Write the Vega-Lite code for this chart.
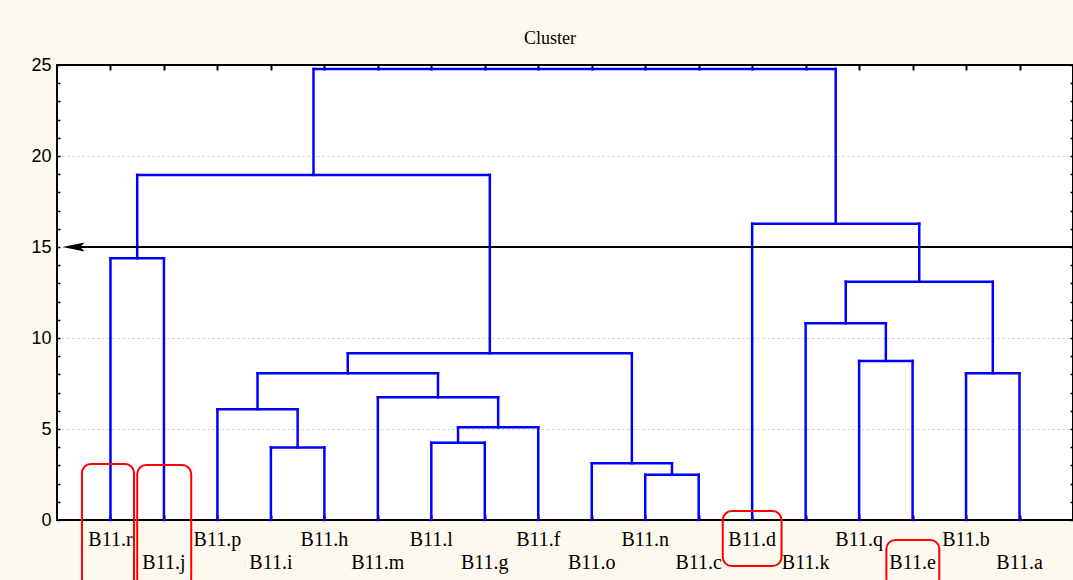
{
  "$schema": "https://vega.github.io/schema/vega-lite/v6.json",
  "width": 1016,
  "height": 455,
  "autosize": "none",
  "padding": {"left": 57, "top": 65, "right": 0, "bottom": 60},
  "background": "#fdf9ee",
  "view": {"fill": "white", "stroke": "black", "strokeWidth": 2},
  "title": {"text": "Cluster", "font": "Liberation Serif", "fontSize": 18, "fontWeight": "normal", "color": "black", "offset": 8, "dx": -15},
  "datasets": {
    "merges": [
      {"xl": 1, "xr": 2, "hl": 0, "hr": 0, "h": 14.38},
      {"xl": 4, "xr": 5, "hl": 0, "hr": 0, "h": 3.99},
      {"xl": 3, "xr": 4.5, "hl": 0, "hr": 3.99, "h": 6.08},
      {"xl": 7, "xr": 8, "hl": 0, "hr": 0, "h": 4.25},
      {"xl": 7.5, "xr": 9, "hl": 4.25, "hr": 0, "h": 5.09},
      {"xl": 6, "xr": 8.25, "hl": 0, "hr": 5.09, "h": 6.74},
      {"xl": 3.75, "xr": 7.125, "hl": 6.08, "hr": 6.74, "h": 8.06},
      {"xl": 11, "xr": 12, "hl": 0, "hr": 0, "h": 2.49},
      {"xl": 10, "xr": 11.5, "hl": 0, "hr": 2.49, "h": 3.12},
      {"xl": 5.4375, "xr": 10.75, "hl": 8.06, "hr": 3.12, "h": 9.16},
      {"xl": 1.5, "xr": 8.09375, "hl": 14.38, "hr": 9.16, "h": 18.96},
      {"xl": 15, "xr": 16, "hl": 0, "hr": 0, "h": 8.74},
      {"xl": 14, "xr": 15.5, "hl": 0, "hr": 8.74, "h": 10.81},
      {"xl": 17, "xr": 18, "hl": 0, "hr": 0, "h": 8.06},
      {"xl": 14.75, "xr": 17.5, "hl": 10.81, "hr": 8.06, "h": 13.09},
      {"xl": 13, "xr": 16.125, "hl": 0, "hr": 13.09, "h": 16.28},
      {"xl": 4.796875, "xr": 14.5625, "hl": 18.96, "hr": 16.28, "h": 24.78}
    ],
    "leaves": [
      {"i": 1, "name": "B11.r"}, {"i": 2, "name": "B11.j"}, {"i": 3, "name": "B11.p"},
      {"i": 4, "name": "B11.i"}, {"i": 5, "name": "B11.h"}, {"i": 6, "name": "B11.m"},
      {"i": 7, "name": "B11.l"}, {"i": 8, "name": "B11.g"}, {"i": 9, "name": "B11.f"},
      {"i": 10, "name": "B11.o"}, {"i": 11, "name": "B11.n"}, {"i": 12, "name": "B11.c"},
      {"i": 13, "name": "B11.d"}, {"i": 14, "name": "B11.k"}, {"i": 15, "name": "B11.q"},
      {"i": 16, "name": "B11.e"}, {"i": 17, "name": "B11.b"}, {"i": 18, "name": "B11.a"}
    ],
    "boxes": [
      {"x1": 0.467, "x2": 1.44, "y1": 3.08, "y2": -3.7},
      {"x1": 1.5, "x2": 2.51, "y1": 3.02, "y2": -3.7},
      {"x1": 12.45, "x2": 13.55, "y1": 0.49, "y2": -2.53},
      {"x1": 15.51, "x2": 16.5, "y1": -1.1, "y2": -3.7}
    ]
  },
  "resolve": {"axis": {"x": "independent", "y": "independent"}},
  "layer": [
    {
      "data": {"name": "merges"},
      "mark": {"type": "rule", "color": "#0000ff", "strokeWidth": 2.5, "strokeCap": "square"},
      "encoding": {
        "x": {"field": "xl", "type": "quantitative", "scale": {"domain": [0, 19], "nice": false, "zero": false},
          "axis": {"orient": "bottom", "values": [1,2,3,4,5,6,7,8,9,10,11,12,13,14,15,16,17,18], "labels": false, "title": null, "domain": false, "grid": false, "ticks": true, "tickSize": -5, "tickColor": "black", "tickWidth": 2}},
        "y": {"field": "hl", "type": "quantitative", "scale": {"domain": [0, 25], "nice": false, "zero": false},
          "axis": {"orient": "left", "values": [0,1,2,3,4,5,6,7,8,9,10,11,12,13,14,15,16,17,18,19,20,21,22,23,24,25],
            "labelExpr": "datum.value % 5 === 0 ? datum.label : ''", "labelFont": "Liberation Sans", "labelFontSize": 18, "labelColor": "black", "labelPadding": 9,
            "title": null, "domain": false, "ticks": true, "tickSize": -3, "tickColor": "black", "tickWidth": 1.5,
            "grid": true, "gridColor": "#c8c8c8", "gridDash": [2, 3], "gridWidth": 1,
            "gridOpacity": {"condition": {"test": "datum.value % 5 === 0 && datum.value > 0 && datum.value < 25", "value": 1}, "value": 0}}},
        "y2": {"field": "h"}
      }
    },
    {
      "data": {"name": "merges"},
      "mark": {"type": "rule", "color": "#0000ff", "strokeWidth": 2.5, "strokeCap": "square"},
      "encoding": {
        "x": {"field": "xr", "type": "quantitative", "axis": null},
        "y": {"field": "hr", "type": "quantitative", "axis": null},
        "y2": {"field": "h"}
      }
    },
    {
      "data": {"name": "merges"},
      "mark": {"type": "rule", "color": "#0000ff", "strokeWidth": 2.5, "strokeCap": "square"},
      "encoding": {
        "x": {"field": "xl", "type": "quantitative", "axis": null},
        "x2": {"field": "xr"},
        "y": {"field": "h", "type": "quantitative", "axis": null}
      }
    },
    {
      "data": {"values": [{"t": 15}]},
      "mark": {"type": "rule", "color": "black", "strokeWidth": 2},
      "encoding": {
        "x": {"datum": 0.3, "type": "quantitative",
          "axis": {"orient": "top", "values": [1,2,3,4,5,6,7,8,9,10,11,12,13,14,15,16,17,18], "labels": false, "title": null, "domain": false, "grid": false, "ticks": true, "tickSize": -5, "tickColor": "black", "tickWidth": 2}},
        "x2": {"datum": 19},
        "y": {"field": "t", "type": "quantitative",
          "axis": {"orient": "right", "values": [0,1,2,3,4,5,6,7,8,9,10,11,12,13,14,15,16,17,18,19,20,21,22,23,24,25], "labels": false, "title": null, "domain": false, "grid": false, "ticks": true, "tickSize": -3, "tickColor": "black", "tickWidth": 1.5}}
      }
    },
    {
      "data": {"values": [{"t": 15}]},
      "mark": {"type": "point", "filled": true, "color": "black", "opacity": 1, "size": 484, "shape": "M -1 0 L 1 -0.42 L 0.6 0 L 1 0.42 Z"},
      "encoding": {
        "x": {"datum": 0.31, "type": "quantitative", "axis": null},
        "y": {"field": "t", "type": "quantitative", "axis": null}
      }
    },
    {
      "data": {"name": "leaves"},
      "transform": [{"filter": "datum.i % 2 === 1"}],
      "mark": {"type": "text", "font": "Liberation Serif", "fontSize": 20, "color": "black", "baseline": "middle", "align": "center", "dy": 20},
      "encoding": {
        "x": {"field": "i", "type": "quantitative", "axis": null},
        "y": {"datum": 0, "type": "quantitative", "axis": null},
        "text": {"field": "name"}
      }
    },
    {
      "data": {"name": "leaves"},
      "transform": [{"filter": "datum.i % 2 === 0"}],
      "mark": {"type": "text", "font": "Liberation Serif", "fontSize": 20, "color": "black", "baseline": "middle", "align": "center", "dy": 43},
      "encoding": {
        "x": {"field": "i", "type": "quantitative", "axis": null},
        "y": {"datum": 0, "type": "quantitative", "axis": null},
        "text": {"field": "name"}
      }
    },
    {
      "data": {"name": "boxes"},
      "mark": {"type": "rect", "fill": "transparent", "stroke": "#ff0000", "strokeWidth": 2, "cornerRadius": 9},
      "encoding": {
        "x": {"field": "x1", "type": "quantitative", "axis": null},
        "x2": {"field": "x2"},
        "y": {"field": "y1", "type": "quantitative", "axis": null},
        "y2": {"field": "y2"}
      }
    }
  ]
}
